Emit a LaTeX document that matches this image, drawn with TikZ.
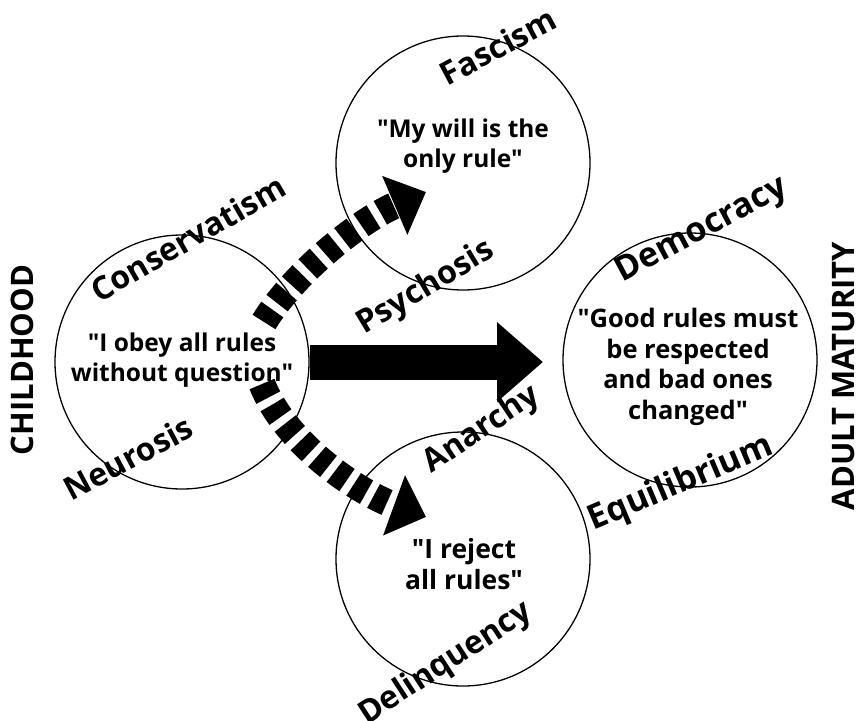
\documentclass[tikz,border=0pt]{standalone}
\usepackage{fontspec}
\setmainfont{Open Sans}[Ligatures=TeXOff]
\usetikzlibrary{arrows.meta}

\begin{document}
\begin{tikzpicture}[x=1pt,y=-1pt,
  stage/.style={circle,draw,line width=1.3pt,minimum size=254pt,inner sep=0pt},
  quote/.style={font=\fontsize{#1}{30.5}\selectfont\bfseries,align=center,inner sep=0pt},
  tag/.style={font=\fontsize{#1}{32}\selectfont\bfseries,inner sep=0pt},
  tag/.default=32,
  side/.style={font=\fontsize{31}{32}\selectfont\bfseries,rotate=90,inner sep=0pt},
  dashedarrow/.style={line width=27pt,dash pattern=on 15pt off 8pt,
    -{Triangle[length=34pt,width=62pt]}},
  mainarrow/.style={line width=35pt,-{Triangle[length=46pt,width=77pt]}},
]
\useasboundingbox (0,0) rectangle (859,720);

% the four stages
\node[stage] (child)  at (182,362) {};
\node[stage] (fasc)   at (463,163) {};
\node[stage] (mature) at (690,360) {};
\node[stage] (anar)   at (463,559) {};

% sayings inside the circles
\node[quote=24.5] (qchild)  at (182,360) {"I obey all rules\\without question"};
\node[quote=24.5] (qfasc)   at (463,146) {"My will is the\\only rule"};
\node[quote=25.5] (qmature) at (688,367) {"Good rules must\\be respected\\and bad ones\\changed"};
\node[quote=26.5] (qanar)   at (464,564) {"I reject\\all rules"};

% labels round the circles
\node[tag,rotate=30]    (lcons)  at (188,238) {Conservatism};
\node[tag,rotate=28]    (lneur)  at (128,458) {Neurosis};
\node[tag,rotate=28]    (lfasc)  at (498,46)  {Fascism};
\node[tag,rotate=31]    (lpsy)   at (426,288) {Psychosis};
\node[tag=34,rotate=28] (ldemo)  at (702,231) {Democracy};
\node[tag=34,rotate=23] (lequi)  at (681,484) {Equilibrium};
\node[tag,rotate=34]    (lanar)  at (482,430) {Anarchy};
\node[tag,rotate=33]    (ldel)   at (446,664) {Delinquency};

% the two ends of development
\node[side] (lchild) at (22,360)  {CHILDHOOD};
\node[side] (ladult) at (844,376) {ADULT MATURITY};

% arrows
\coordinate (upstart) at (264,322);
\coordinate (uptip)   at (426,192);
\coordinate (dnstart) at (262,384);
\coordinate (dntip)   at (426,517);
\coordinate (maintip) at (543,362);

\draw[dashedarrow] (upstart) .. controls (292,276) and (356,222) .. (uptip);
\draw[dashedarrow] (dnstart) .. controls (284,440) and (352,490) .. (dntip);
\draw[mainarrow] (child.east) -- (maintip);
\end{tikzpicture}
\end{document}
